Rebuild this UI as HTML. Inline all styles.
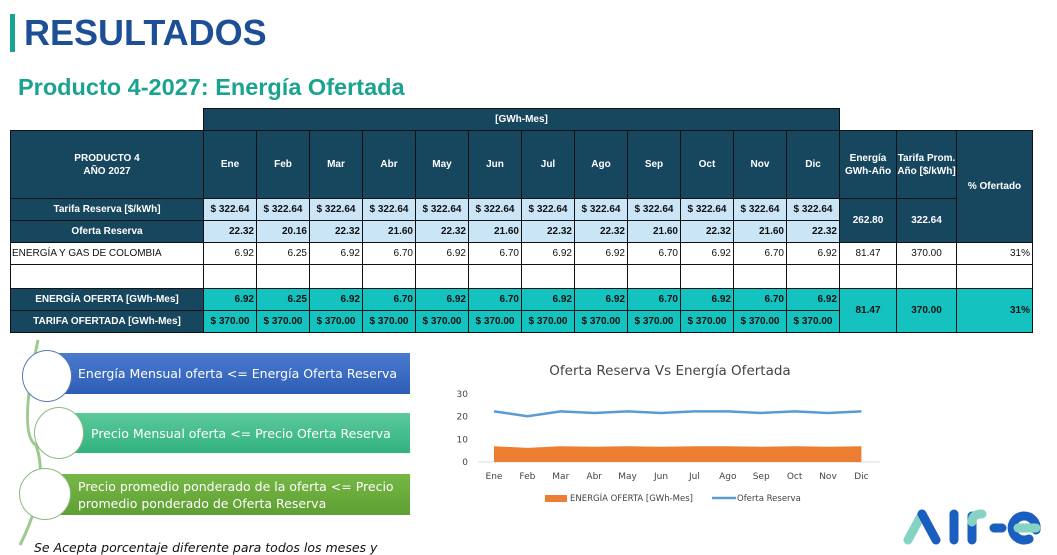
<!DOCTYPE html>
<html><head><meta charset="utf-8"><style>
body{margin:0;width:1057px;height:555px;overflow:hidden;background:#fff;font-family:"Liberation Sans",sans-serif;position:relative}
.c{position:absolute;box-sizing:border-box;border:1px solid #111;display:flex;align-items:center;justify-content:center;text-align:center;font-size:10px;font-weight:bold;line-height:13px}
.d{background:#17465f;color:#fff}
.l{background:#c9e5f6;color:#111}
.w{background:#fff;color:#111;font-weight:normal}
.t{background:#14c3bf;color:#111}
.r{justify-content:flex-end;padding-right:2px}
.lf{justify-content:flex-start;padding-left:1px}
.box{position:absolute;color:#fff;font-family:"DejaVu Sans",sans-serif;font-size:12.5px;display:flex;align-items:center;line-height:17px}
.circ{position:absolute;border-radius:50%;background:#fff;border:1px solid #8bbb7f}
</style></head><body>
<div style="position:absolute;left:10px;top:14px;width:5px;height:38px;background:#1aa391"></div>
<div style="position:absolute;left:24px;top:12px;font-size:36px;font-weight:bold;color:#1d4f96">RESULTADOS</div>
<div style="position:absolute;left:18px;top:74px;font-size:23.5px;font-weight:bold;color:#1aa391">Producto 4-2027: Energía Ofertada</div>
<div id="tbl"></div>
<svg style="position:absolute;left:0;top:335px" width="80" height="215"><path d="M38 5 Q18 100 36 110 Q50 150 20 210" fill="none" stroke="#9cc98c" stroke-width="3"/></svg>
<div class="box" style="left:50px;top:353px;width:360px;height:41px;background:linear-gradient(#4a7bd0,#2e5db5);padding-left:28px;box-sizing:border-box">Energía Mensual oferta &lt;= Energía Oferta Reserva</div>
<div class="circ" style="left:22px;top:350px;width:48px;height:50px;border-color:#5a78b0"></div>
<div class="box" style="left:55px;top:413px;width:355px;height:40px;background:linear-gradient(#5cc99b,#31b27f);padding-left:36px;box-sizing:border-box">Precio Mensual oferta &lt;= Precio Oferta Reserva</div>
<div class="circ" style="left:34px;top:407px;width:48px;height:50px"></div>
<div class="box" style="left:50px;top:474px;width:360px;height:41px;background:linear-gradient(#76b846,#5f9f33);padding-left:28px;box-sizing:border-box">Precio promedio ponderado de la oferta &lt;= Precio<br>promedio ponderado de Oferta Reserva</div>
<div class="circ" style="left:19px;top:468px;width:50px;height:50px"></div>
<div style="position:absolute;left:34px;top:540px;font-family:'DejaVu Sans',sans-serif;font-style:italic;font-size:12.5px;color:#111">Se Acepta porcentaje diferente para todos los meses y</div>
<svg id="chart" style="position:absolute;left:430px;top:350px" width="460" height="170"></svg>
<svg style="position:absolute;left:890px;top:500px" width="160" height="50">
<g stroke-linecap="round" stroke-width="9" fill="none">
<line x1="18" y1="40" x2="32" y2="14" stroke="#86d3c3"/><line x1="32" y1="14" x2="46" y2="40" stroke="#1a5fc0"/>
<line x1="64" y1="14" x2="64" y2="40" stroke="#1a5fc0"/><line x1="82" y1="40" x2="82" y2="16" stroke="#1a5fc0"/><path d="M82 22 Q82 14 92 14" stroke="#86d3c3"/>
<line x1="104" y1="28" x2="112" y2="28" stroke="#1a5fc0"/>
<path d="M146 30 A12 12 0 1 0 139 39" stroke="#1a5fc0"/><line x1="128" y1="28" x2="146" y2="28" stroke="#86d3c3"/>
</g></svg>
<script>
const months=["Ene","Feb","Mar","Abr","May","Jun","Jul","Ago","Sep","Oct","Nov","Dic"];
const ofertaReserva=[22.32,20.16,22.32,21.60,22.32,21.60,22.32,22.32,21.60,22.32,21.60,22.32];
const energiaOferta=[6.92,6.25,6.92,6.70,6.92,6.70,6.92,6.92,6.70,6.92,6.70,6.92];
const yTicks=[0,10,20,30];
const tbl=document.getElementById('tbl');
function cell(x,y,w,h,cls,txt,name){const d=document.createElement('div');d.className='c '+cls;d.style.left=x+'px';d.style.top=y+'px';d.style.width=w+'px';d.style.height=h+'px';d.innerHTML=txt;


tbl.appendChild(d);}
const X0=203,CW=53;
cell(X0,108,CW*12+1,23,'d','[GWh-Mes]','unit-header');
cell(10,130,194,69,'d','PRODUCTO 4<br>AÑO 2027','product-header');
cell(10,198,194,23,'d','Tarifa Reserva [$/kWh]','row-label');
cell(10,220,194,23,'d','Oferta Reserva','row-label');
cell(10,242,194,23,'w lf','ENERGÍA Y GAS DE COLOMBIA','row-label');
cell(10,264,194,25,'w','','row-label');
cell(10,288,194,23,'d','ENERGÍA OFERTA [GWh-Mes]','row-label');
cell(10,310,194,23,'d','TARIFA OFERTADA [GWh-Mes]','row-label');
months.forEach((m,i)=>{const x=X0+i*CW,w=CW+1;
cell(x,130,w,69,'d',m,'month-header');
cell(x,198,w,23,'l','$ 322.64','tarifa-reserva-cell');
cell(x,220,w,23,'l r',ofertaReserva[i].toFixed(2),'oferta-reserva-cell');
cell(x,242,w,23,'w r',energiaOferta[i].toFixed(2),'energia-cell');
cell(x,264,w,25,'w','','empty-cell');
cell(x,288,w,23,'t r',energiaOferta[i].toFixed(2),'energia-oferta-cell');
cell(x,310,w,23,'t','$ 370.00','tarifa-ofertada-cell');});
const E=X0+12*CW;
cell(E,130,58,69,'d','Energía<br>GWh-Año','energia-anual-header');
cell(E+57,130,61,69,'d','Tarifa Prom.<br>Año [$/kWh]','tarifa-prom-header');
cell(E+117,130,77,113,'d','% Ofertado','ofertado-header');
cell(E,198,58,45,'d','262.80','energia-reserva-total');
cell(E+57,198,61,45,'d','322.64','tarifa-reserva-total');
cell(E,242,58,23,'w','81.47','energia-total');
cell(E+57,242,61,23,'w','370.00','tarifa-total');
cell(E+117,242,77,23,'w r','31%','ofertado-pct');
cell(E,264,58,25,'w','','empty');cell(E+57,264,61,25,'w','','empty');cell(E+117,264,77,25,'w','','empty');
cell(E,288,58,45,'t','81.47','energia-oferta-total');
cell(E+57,288,61,45,'t','370.00','tarifa-ofertada-total');
cell(E+117,288,77,45,'t r','31%','ofertado-pct-total');
const svg=document.getElementById('chart'),NS='http://www.w3.org/2000/svg';
function el(t,a,name){const e=document.createElementNS(NS,t);for(const k in a)e.setAttribute(k,a[k]);


svg.appendChild(e);return e;}
const xS=i=>64+i*33.4, yS=v=>112-v*2.27;
el('text',{x:240,y:25,'text-anchor':'middle','font-size':'13.5','fill':'#444','font-family':'DejaVu Sans,sans-serif'},'chart-title').textContent='Oferta Reserva Vs Energía Ofertada';
yTicks.forEach(t=>{el('text',{x:38,y:yS(t)+3,'text-anchor':'end','font-size':'9','fill':'#444','font-family':'DejaVu Sans,sans-serif'},'y-tick').textContent=t;});
el('line',{x1:48,x2:450,y1:yS(0),y2:yS(0),stroke:'#ddd'},'x-axis');
let p='M'+xS(0)+' '+yS(0);energiaOferta.forEach((v,i)=>p+=' L'+xS(i)+' '+yS(v));p+=' L'+xS(11)+' '+yS(0)+'Z';
el('path',{d:p,fill:'#ed7d31'},'energia-oferta-area');
el('polyline',{points:ofertaReserva.map((v,i)=>xS(i)+','+yS(v)).join(' '),fill:'none',stroke:'#5b9bd5','stroke-width':2.5},'oferta-reserva-line');
months.forEach((m,i)=>{el('text',{x:xS(i),y:129,'text-anchor':'middle','font-size':'9','fill':'#444','font-family':'DejaVu Sans,sans-serif'},'x-tick').textContent=m;});
el('rect',{x:115,y:145,width:22,height:7,fill:'#ed7d31'},'legend-swatch-energia');
el('text',{x:140,y:151,'font-size':'8.5','fill':'#444','font-family':'DejaVu Sans,sans-serif'},'legend-energia').textContent='ENERGÍA OFERTA [GWh-Mes]';
el('line',{x1:282,x2:306,y1:148,y2:148,stroke:'#5b9bd5','stroke-width':2.5},'legend-swatch-reserva');
el('text',{x:307,y:151,'font-size':'8.5','fill':'#444','font-family':'DejaVu Sans,sans-serif'},'legend-reserva').textContent='Oferta Reserva';
</script>
</body></html>
